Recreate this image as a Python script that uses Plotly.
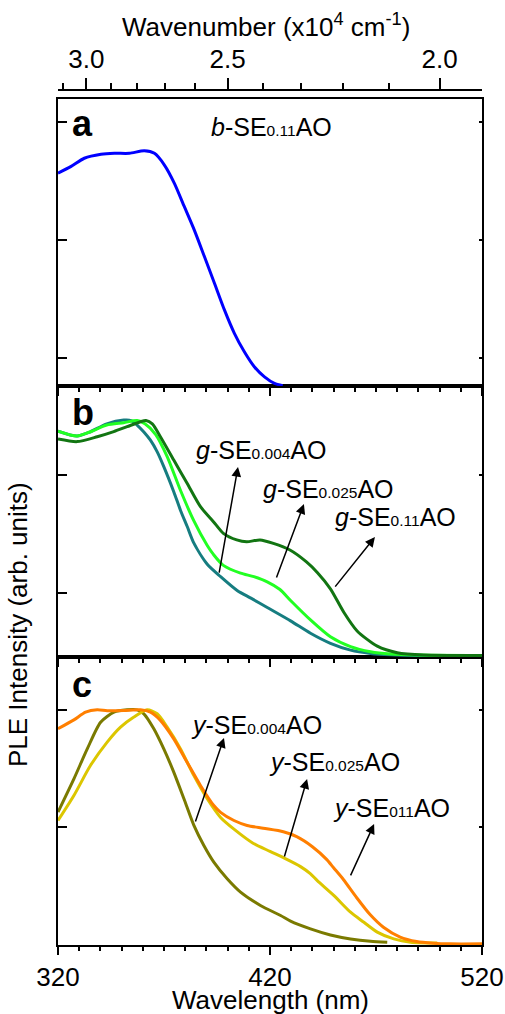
import plotly.graph_objects as go

# ---------------- data ----------------
# panel a : b-SE0.11AO
wl_a = [320, 326, 332.4, 340.3, 346.6, 353.7, 360.7, 365.5, 370.2, 374.9, 379.6, 384.3,
        389.1, 393.8, 398.5, 403.2, 407.9, 412.6, 417.4, 422.1, 426]
ple_a = [0.908, 0.936, 0.972, 0.989, 0.993, 0.993, 1.004, 0.993, 0.943, 0.865, 0.765, 0.665,
         0.551, 0.438, 0.324, 0.224, 0.145, 0.081, 0.038, 0.010, 0.0]

# panel b : g-SE samples
wl_g004 = [320, 329, 335, 343, 351, 354.5, 357.3, 360.5, 363.6, 366.8, 369.9, 374.6, 377.8, 381,
           384.1, 390.4, 396.7, 404.5, 411, 418.7, 429.7, 439.1, 448.5, 458, 467.4, 476.8, 490, 520]
ple_g004 = [0.959, 0.938, 0.955, 0.99, 1.006, 1.004, 0.985, 0.955, 0.92, 0.87, 0.807, 0.70, 0.62,
            0.55, 0.48, 0.39, 0.337, 0.278, 0.245, 0.205, 0.148, 0.095, 0.052, 0.023, 0.009,
            0.003, 0.0, 0.0]

wl_g025 = [320, 329, 335, 343, 351, 357.3, 361, 366, 371.5, 377.8, 384.1, 390.4, 393.3, 398,
           406.1, 412.4, 418.7, 424.7, 429.7, 439.1, 448.5, 458, 467.4, 476.8, 489.4, 520]
ple_g025 = [0.959, 0.938, 0.955, 0.985, 0.995, 1.004, 0.99, 0.945, 0.850, 0.705, 0.575, 0.47,
            0.432, 0.385, 0.352, 0.337, 0.315, 0.282, 0.235, 0.152, 0.080, 0.038, 0.016, 0.006,
            0.002, 0.0]

wl_g11 = [320, 329, 338.5, 346.3, 352.6, 358.9, 361.5, 364.5, 368.3, 374.6, 380.9, 387.2, 393.3,
          398, 404.3, 409, 415.3, 421.6, 429.4, 437.2, 442.3, 448.5, 454.8, 461.1, 470.6, 480,
          492.6, 520]
ple_g11 = [0.925, 0.914, 0.935, 0.957, 0.978, 0.999, 1.004, 0.99, 0.935, 0.835, 0.736, 0.636,
           0.572, 0.522, 0.494, 0.486, 0.494, 0.479, 0.451, 0.400, 0.355, 0.285, 0.185, 0.105,
           0.040, 0.012, 0.002, 0.0]

# panel c : y-SE samples
wl_y004 = [320, 327.5, 333.8, 340.1, 346.4, 352.6, 357.3, 360.5, 365.2, 369.9, 374.6, 379.4,
           384.1, 388.8, 393.5, 399.8, 406.1, 415.5, 425, 429.7, 439.1, 448.5, 458, 467.4, 475.3]
ple_y004 = [0.563, 0.705, 0.833, 0.947, 0.99, 1.0, 1.0, 0.983, 0.919, 0.833, 0.734, 0.620,
            0.506, 0.420, 0.349, 0.278, 0.221, 0.164, 0.121, 0.097, 0.064, 0.038, 0.021, 0.011,
            0.007]

wl_y025 = [320, 327.5, 335.3, 343.2, 349.5, 355.8, 362, 366.8, 371.5, 377.8, 384.1, 390.4, 396.7,
           403, 412, 420, 427, 434.4, 439, 442.3, 450.2, 458, 464.3, 470.6, 478.4, 486.3, 498.9]
ple_y025 = [0.527, 0.634, 0.762, 0.862, 0.926, 0.969, 1.0, 0.983, 0.926, 0.833, 0.719, 0.620,
            0.540, 0.49, 0.43, 0.395, 0.365, 0.33, 0.30, 0.27, 0.206, 0.135, 0.092, 0.05, 0.021,
            0.007, 0.004]

wl_y11 = [320, 327.5, 333, 338.5, 343.2, 351, 358.9, 363.6, 368.3, 374.6, 380.9, 387.2, 393.5,
          396.7, 403, 409.2, 416.8, 426.3, 432.6, 440, 446.8, 450, 454.6, 460.9, 467.2, 473.5,
          481.4, 489.2, 497, 505, 520]
ple_y11 = [0.919, 0.957, 0.99, 1.0, 0.996, 0.997, 1.0, 0.99, 0.955, 0.876, 0.776, 0.677, 0.591,
           0.562, 0.527, 0.506, 0.494, 0.479, 0.458, 0.415, 0.36, 0.325, 0.275, 0.197, 0.125,
           0.071, 0.029, 0.010, 0.003, 0.0, 0.0]

# axis ticks
wl_range = [320, 520]
wn_major = [3.0, 2.5, 2.0]            # x10^4 cm^-1
wn_major_text = ["3.0", "2.5", "2.0"]
wn_minor = [3.1, 2.9, 2.8, 2.7, 2.6, 2.4, 2.3, 2.2, 2.1]
ytick_a = [0.118, 0.623, 1.127]
ytick_b = [0.267, 0.771]
ytick_c = [0.5, 1.0]

# labels: (text, wavelength, intensity)
sub = "<span style='font-size:15.5px'>{}</span>"
label_a = [("<i>b</i>-SE" + sub.format("0.11") + "AO", 391.4, 1.106)]
labels_b = [("<i>g</i>-SE" + sub.format("0.004") + "AO", 384.0, 0.878),
            ("<i>g</i>-SE" + sub.format("0.025") + "AO", 415.6, 0.712),
            ("<i>g</i>-SE" + sub.format("0.11") + "AO", 449.5, 0.592)]
labels_c = [("<i>y</i>-SE" + sub.format("0.004") + "AO", 381.6, 0.935),
            ("<i>y</i>-SE" + sub.format("0.025") + "AO", 418.4, 0.777),
            ("<i>y</i>-SE" + sub.format("011") + "AO", 448.6, 0.580)]
# arrows: (tail wl, tail I, tip wl, tip I)
arrows_b = [(395.9, 0.348, 404.9, 0.806), (422.8, 0.327, 436.0, 0.647), (450.2, 0.288, 469.5, 0.506)]
arrows_c = [(384.6, 0.516, 398.3, 0.880), (426.6, 0.367, 437.5, 0.704), (457.7, 0.286, 469.1, 0.512)]

FONT = "Liberation Sans, Arial, sans-serif"

fig = go.Figure()

def add_line(x, y, color, xa, ya):
    fig.add_trace(go.Scatter(x=x, y=y, xaxis=xa, yaxis=ya, mode="lines", hoverinfo="skip",
                             line=dict(color=color, width=3, shape="spline", smoothing=0.7),
                             showlegend=False))

add_line(wl_a, ple_a, "#0000ff", "x3", "y3")
add_line(wl_g004, ple_g004, "#167d80", "x2", "y2")
add_line(wl_g025, ple_g025, "#22ff22", "x2", "y2")
add_line(wl_g11, ple_g11, "#127512", "x2", "y2")
add_line(wl_y004, ple_y004, "#7a7a00", "x", "y")
add_line(wl_y025, ple_y025, "#dcc600", "x", "y")
add_line(wl_y11, ple_y11, "#ff7f00", "x", "y")

# empty carriers for the top wavenumber axis and the short right-hand ticks
for xa, ya in [("x4", "y3"), ("x", "y4"), ("x2", "y5"), ("x3", "y6")]:
    fig.add_trace(go.Scatter(x=wl_range, y=[None, None], xaxis=xa, yaxis=ya, mode="lines",
                             hoverinfo="skip", showlegend=False))

xcommon = dict(range=wl_range, tickmode="linear", tick0=320, dtick=100, ticks="outside",
               ticklen=8, tickwidth=1.5, tickcolor="black", showline=True, linecolor="black",
               linewidth=2, mirror=True, showgrid=False, zeroline=False, automargin=False,
               tickfont=dict(size=26, family=FONT, color="black"),
               minor=dict(tick0=320, dtick=10, ticks="outside", ticklen=4, tickwidth=1.5,
                          tickcolor="black", showgrid=False))
ycommon = dict(showline=True, linecolor="black", linewidth=2, mirror=True, ticks="inside",
               ticklen=9, tickwidth=1.5, tickcolor="black", showticklabels=False,
               showgrid=False, zeroline=False, tickmode="array", automargin=False)
yright = dict(side="right", showline=False, ticks="inside", ticklen=3, tickwidth=1.5,
              tickcolor="black", showticklabels=False, showgrid=False, zeroline=False,
              tickmode="array", automargin=False)

H = 855.0
rng_a = [-0.0013, 1.2252]
rng_b = [-0.0064, 1.1517]
rng_c = [-0.005, 1.2258]
fig.update_layout(
    template="none",
    width=505, height=1014, autosize=False,
    margin=dict(l=58, r=23, t=90, b=69, pad=0),
    paper_bgcolor="white", plot_bgcolor="white",
    font=dict(family=FONT, color="black"),
    showlegend=False,
    xaxis=dict(xcommon, anchor="y"),
    xaxis2=dict(xcommon, anchor="y2", matches="x", showticklabels=False),
    xaxis3=dict(xcommon, anchor="y3", matches="x", showticklabels=False),
    xaxis4=dict(range=wl_range, overlaying="x3", anchor="free", position=1, side="top",
                tickmode="array", tickvals=[1000 / w for w in wn_major], ticktext=wn_major_text,
                ticks="outside", ticklen=11, tickwidth=1.5, tickcolor="black", automargin=False,
                showline=True, linecolor="black", linewidth=1.5, showgrid=False, zeroline=False,
                tickfont=dict(size=26, family=FONT, color="black"),
                minor=dict(tickmode="array", tickvals=[1000 / w for w in wn_minor],
                           ticks="outside", ticklen=6, tickwidth=1.5, tickcolor="black",
                           showgrid=False)),
    yaxis=dict(ycommon, domain=[0, 288 / H], range=rng_c, tickvals=ytick_c),
    yaxis2=dict(ycommon, domain=[288 / H, 559 / H], range=rng_b, tickvals=ytick_b),
    yaxis3=dict(ycommon, domain=[559 / H, 846 / H], range=rng_a, tickvals=ytick_a),
    yaxis4=dict(yright, overlaying="y", anchor="x", range=rng_c, tickvals=ytick_c),
    yaxis5=dict(yright, overlaying="y2", anchor="x2", range=rng_b, tickvals=ytick_b),
    yaxis6=dict(yright, overlaying="y3", anchor="x3", range=rng_a, tickvals=ytick_a),
)

ann = []
def text_ann(t, x, y, xr, yr, size=25):
    ann.append(dict(text=t, x=x, y=y, xref=xr, yref=yr, xanchor="left", yanchor="middle",
                    showarrow=False, font=dict(size=size, family=FONT, color="black")))

for t, x, y in label_a:
    text_ann(t, x, y, "x3", "y3")
for t, x, y in labels_b:
    text_ann(t, x, y, "x2", "y2")
for t, x, y in labels_c:
    text_ann(t, x, y, "x", "y")

text_ann("<b>a</b>", 325.7, 1.121, "x3", "y3", size=36)
text_ann("<b>b</b>", 325.7, 1.039, "x2", "y2", size=36)
text_ann("<b>c</b>", 325.7, 1.109, "x", "y", size=36)

for (ax_, ay_, x_, y_), xr, yr in [(a, "x2", "y2") for a in arrows_b] + [(a, "x", "y") for a in arrows_c]:
    ann.append(dict(text="", x=x_, y=y_, ax=ax_, ay=ay_, xref=xr, yref=yr, axref=xr, ayref=yr,
                    showarrow=True, arrowhead=2, arrowsize=1.3, arrowwidth=1.5,
                    arrowcolor="black", standoff=0))

ann.append(dict(text="Wavenumber (x10<sup>4</sup> cm<sup>-1</sup>)", x=0.4906, y=(945 - 26) / H,
                xref="paper", yref="paper", xanchor="center", yanchor="middle", showarrow=False,
                font=dict(size=26, family=FONT, color="black")))
ann.append(dict(text="Wavelength (nm)", x=0.5, y=(945 - 1000) / H, xref="paper", yref="paper",
                xanchor="center", yanchor="middle", showarrow=False,
                font=dict(size=26, family=FONT, color="black")))
ann.append(dict(text="PLE Intensity (arb. units)", x=(18 - 58) / 424.0, y=(945 - 625) / H,
                xref="paper", yref="paper", xanchor="center", yanchor="middle", textangle=-90,
                showarrow=False, font=dict(size=26, family=FONT, color="black")))
fig.update_layout(annotations=ann)

fig.write_html("out.html")
